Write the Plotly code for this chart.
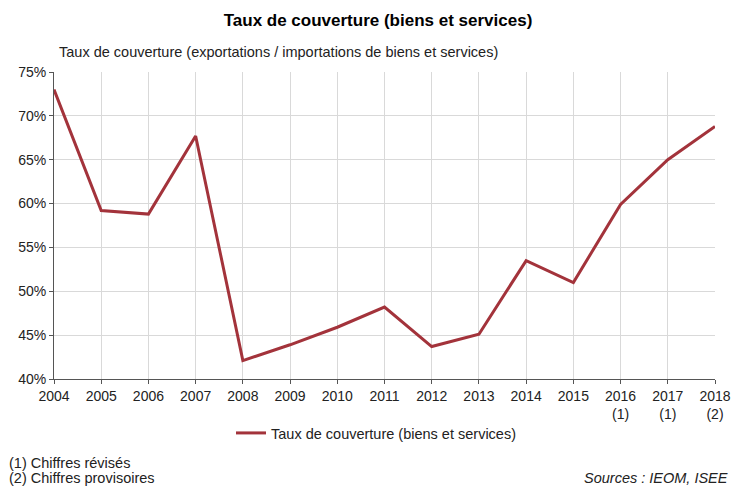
import plotly.graph_objects as go

years = [2004, 2005, 2006, 2007, 2008, 2009, 2010, 2011, 2012, 2013, 2014, 2015, 2016, 2017, 2018]
tick_labels = ["2004", "2005", "2006", "2007", "2008", "2009", "2010", "2011", "2012", "2013",
               "2014", "2015", "2016<br>(1)", "2017<br>(1)", "2018<br>(2)"]
taux = [73.0, 59.2, 58.8, 67.7, 42.1, 43.9, 45.9, 48.2, 43.7, 45.1, 53.5, 51.0, 59.9, 65.0, 68.8]
y_ticks = [40, 45, 50, 55, 60, 65, 70, 75]
y_labels = [f"{v}%" for v in y_ticks]

FONT = "Liberation Sans"
W, H = 732, 486
L, R, T, B = 54, 17, 72, 107
PW, PH = W - L - R, H - T - B
TXT = "#222222"

fig = go.Figure()
fig.add_trace(go.Scatter(
    x=years, y=taux, mode="lines",
    line=dict(color="#A3333B", width=3),
    name="Taux de couverture (biens et services)",
))

fig.update_layout(
    width=W, height=H,
    margin=dict(l=L, r=R, t=T, b=B, autoexpand=False),
    paper_bgcolor="white", plot_bgcolor="white",
    font=dict(family=FONT, size=14, color=TXT),
    showlegend=True,
    legend=dict(orientation="h", x=(231 - L) / PW, xanchor="left",
                y=-(433 - (H - B)) / PH, yanchor="middle",
                font=dict(size=14.5, color=TXT), itemwidth=30),
    title=dict(text="<b>Taux de couverture (biens et services)</b>", x=378 / W, xanchor="center",
               y=1 - 20 / H, yanchor="middle", font=dict(family=FONT, size=17, color="#000000")),
)

fig.update_xaxes(
    range=[2004, 2018], tickvals=years, ticktext=tick_labels,
    showgrid=True, gridcolor="#D9D9D9", gridwidth=1,
    showline=True, linecolor="#555555", linewidth=1,
    ticks="outside", ticklen=4, tickcolor="#555555",
    tickfont=dict(size=14, color=TXT),
    mirror=False, zeroline=False, fixedrange=True,
)
fig.update_yaxes(
    range=[40, 75], tickvals=y_ticks, ticktext=y_labels,
    showgrid=True, gridcolor="#D9D9D9", gridwidth=1,
    showline=True, linecolor="#555555", linewidth=1,
    ticks="outside", ticklen=4, tickcolor="#555555",
    tickfont=dict(size=14, color=TXT),
    zeroline=False, fixedrange=True,
)

# subtitle (axis label)
fig.add_annotation(text="Taux de couverture (exportations / importations de biens et services)",
                   xref="paper", yref="paper", x=(57 - L) / PW, y=1 + (72 - 52) / PH,
                   xanchor="left", yanchor="middle", showarrow=False,
                   font=dict(size=14.5, color=TXT))
# footnotes
fig.add_annotation(text="(1) Chiffres révisés", xref="paper", yref="paper",
                   x=-(L - 7) / PW, y=-(463 - (H - B)) / PH,
                   xanchor="left", yanchor="middle", showarrow=False,
                   font=dict(size=14.5, color=TXT))
fig.add_annotation(text="(2) Chiffres provisoires", xref="paper", yref="paper",
                   x=-(L - 7) / PW, y=-(478 - (H - B)) / PH,
                   xanchor="left", yanchor="middle", showarrow=False,
                   font=dict(size=14.5, color=TXT))
fig.add_annotation(text="<i>Sources : IEOM, ISEE</i>", xref="paper", yref="paper",
                   x=(W - 2 - L) / PW, y=-(478 - (H - B)) / PH,
                   xanchor="right", yanchor="middle", showarrow=False,
                   font=dict(size=14.5, color=TXT))

fig.write_html("out.html", config={"displayModeBar": False})

# remove default browser body margin so the figure sits at the top-left corner
with open("out.html", encoding="utf-8") as f:
    html = f.read()
html = html.replace("<body>", '<body style="margin:0;padding:0;overflow:hidden">', 1)
with open("out.html", "w", encoding="utf-8") as f:
    f.write(html)
